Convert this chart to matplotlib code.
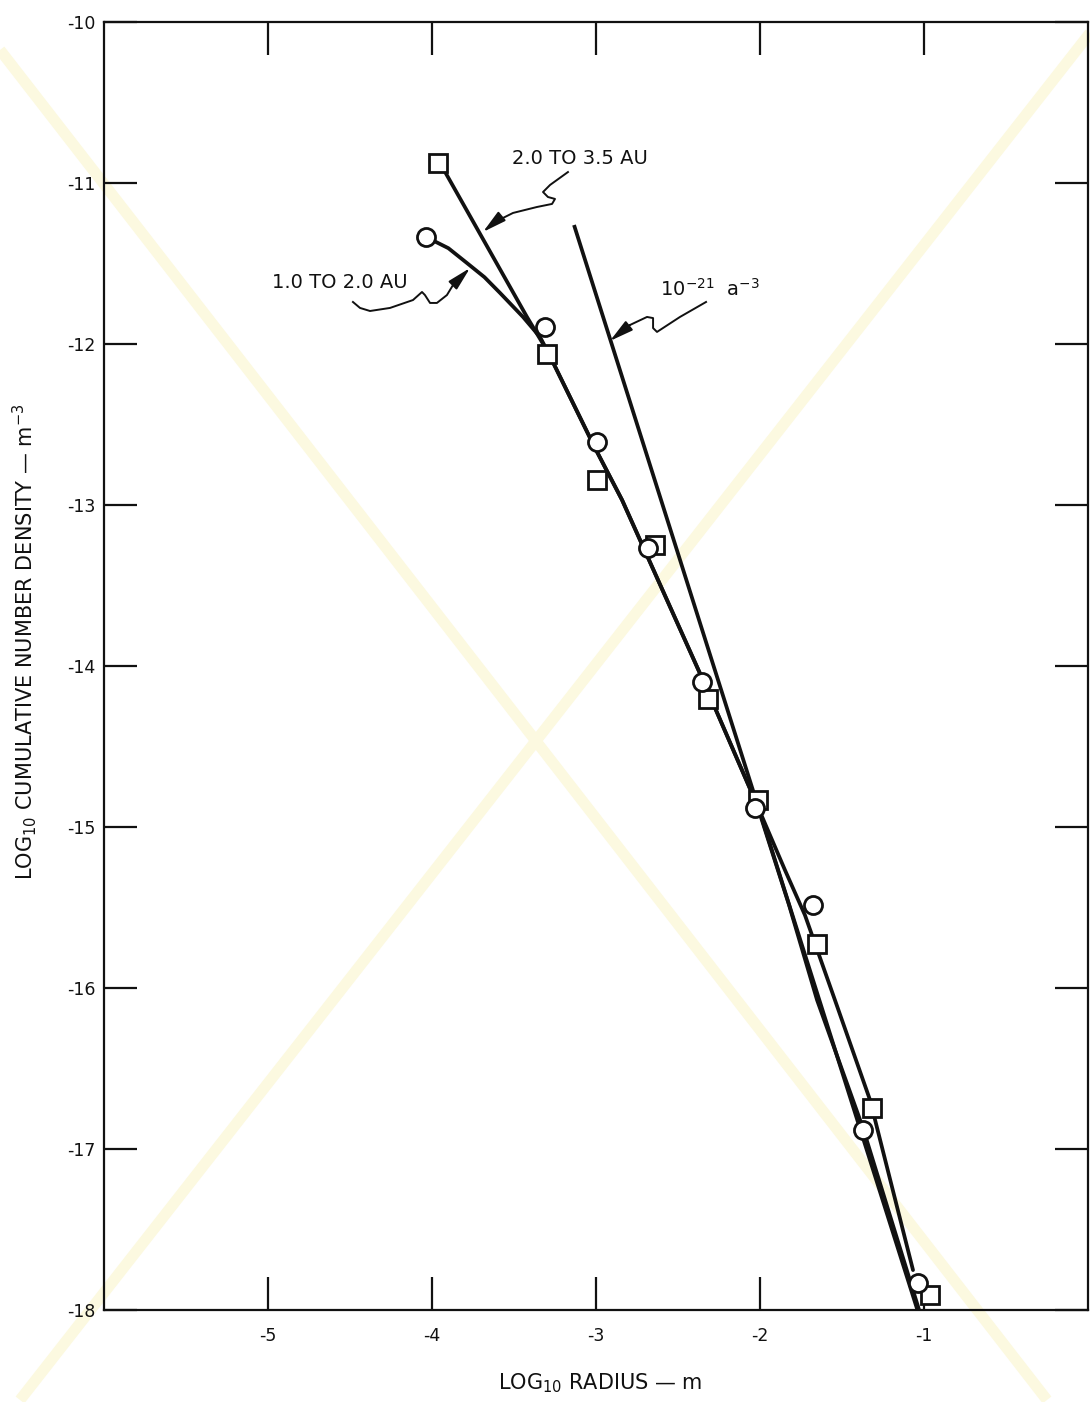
import matplotlib
matplotlib.use("Agg")
import matplotlib.pyplot as plt
from matplotlib.lines import Line2D

plt.rcParams['font.family'] = ['DejaVu Sans']
plt.rcParams['axes.unicode_minus'] = False
plt.rcParams['mathtext.default'] = 'regular'

# ---------------- data ----------------
# 2.0 TO 3.5 AU  (squares)
sq_x = [-3.963, -3.299, -2.994, -2.640, -2.317, -2.012, -1.652, -1.317, -0.963]
sq_y = [-10.876, -12.062, -12.845, -13.248, -14.205, -14.832, -15.727, -16.745, -17.907]
# 1.0 TO 2.0 AU  (circles)
ci_x = [-4.037, -3.311, -2.994, -2.683, -2.354, -2.030, -1.677, -1.372, -1.037]
ci_y = [-11.335, -11.894, -12.609, -13.267, -14.099, -14.882, -15.484, -16.882, -17.832]

# hand-drawn fitted curves
sq_curve_x = [-3.951, -3.421, -3.293, -3.006, -2.841, -2.348, -2.018, -1.848, -1.726, -1.543, -1.329, -1.067]
sq_curve_y = [-10.876, -11.832, -12.050, -12.646, -12.969, -14.087, -14.863, -15.267, -15.547, -16.075, -16.696, -17.752]
ci_curve_x = [-4.037, -3.900, -3.787, -3.680, -3.585, -3.445, -3.341, -3.293, -3.006, -2.841, -2.348, -2.018, -1.823, -1.652, -1.372, -1.030]
ci_curve_y = [-11.335, -11.405, -11.497, -11.585, -11.683, -11.832, -11.957, -12.050, -12.646, -12.969, -14.087, -14.863, -15.484, -16.075, -16.870, -18.0]

# 10^-21 a^-3 reference line (end points)
ref_x = [-3.134, -1.040]
ref_y = [-11.261, -18.0]

x_ticks = [-5, -4, -3, -2, -1]
y_ticks = [-18, -17, -16, -15, -14, -13, -12, -11, -10]

# ---------------- figure ----------------
W, H = 1090, 1402
fig = plt.figure(figsize=(W / 100, H / 100), dpi=100)
fig.patch.set_facecolor('white')

# faint watermark cross
wm = '#fcf9e0'
fig.add_artist(Line2D([0, 1047 / W], [1 - 50 / H, 1 - 1400 / H], transform=fig.transFigure,
                      color=wm, lw=8, zorder=-1, solid_capstyle='butt'))
fig.add_artist(Line2D([1.0, 20 / W], [1 - 33 / H, 1 - 1400 / H], transform=fig.transFigure,
                      color=wm, lw=8, zorder=-1, solid_capstyle='butt'))

ax = fig.add_axes([104 / W, 1 - 1310 / H, 984 / W, 1288 / H])
ax.set_facecolor('none')
ax.set_xlim(-6, 0)
ax.set_ylim(-18, -10)

lw = 2.7
ax.plot(sq_curve_x, sq_curve_y, color='#111111', lw=lw, zorder=2, solid_capstyle='round', solid_joinstyle='round')
ax.plot(ci_curve_x, ci_curve_y, color='#111111', lw=lw, zorder=2, solid_capstyle='round', solid_joinstyle='round')
ax.plot(ref_x, ref_y, color='#111111', lw=lw, zorder=2, solid_capstyle='butt')

ax.plot(sq_x, sq_y, linestyle='none', marker='s', ms=13, mfc='white', mec='#111111', mew=2, zorder=3)
ax.plot(ci_x, ci_y, linestyle='none', marker='o', ms=13, mfc='white', mec='#111111', mew=2, zorder=4)

# ---------------- annotations ----------------
def leader(xs, ys, tip):
    ax.plot(xs, ys, color='#111111', lw=1.4, zorder=2, solid_joinstyle='round')
    ax.annotate('', xy=tip, xytext=(xs[-1], ys[-1]),
                arrowprops=dict(arrowstyle='-|>,head_length=0.9,head_width=0.22',
                                color='#111111', lw=1.4, shrinkA=0, shrinkB=0,
                                mutation_scale=16), zorder=2)

ax.text(-3.098, -10.845, '2.0 TO 3.5 AU', fontsize=14, ha='center', va='center', color='#111111')
leader([-3.171, -3.280, -3.323, -3.293, -3.250, -3.268, -3.360, -3.506, -3.616],
       [-10.932, -11.012, -11.056, -11.087, -11.099, -11.130, -11.149, -11.186, -11.242],
       (-3.689, -11.304))

ax.text(-4.561, -11.621, '1.0 TO 2.0 AU', fontsize=14, ha='center', va='center', color='#111111')
leader([-4.482, -4.439, -4.378, -4.256, -4.116, -4.061, -4.043, -4.012, -3.970, -3.909, -3.872],
       [-11.739, -11.776, -11.795, -11.776, -11.727, -11.677, -11.696, -11.745, -11.745, -11.696, -11.634],
       (-3.768, -11.528))

ax.text(-2.305, -11.70, '10$^{-21}$  a$^{-3}$', fontsize=14, ha='center', va='baseline', color='#111111')
leader([-2.329, -2.488, -2.628, -2.652, -2.652, -2.689, -2.793],
       [-11.739, -11.832, -11.925, -11.901, -11.839, -11.832, -11.882],
       (-2.915, -11.981))

# ---------------- axes styling ----------------
for s in ax.spines.values():
    s.set_linewidth(1.6)
    s.set_color('#111111')

ax.set_xticks(x_ticks)
ax.set_xticklabels([str(v) for v in x_ticks])
ax.set_yticks(y_ticks)
ax.set_yticklabels([str(v) for v in y_ticks])
ax.tick_params(axis='both', direction='in', length=24, width=1.6, color='#111111',
               top=True, right=True, labelsize=12.5, labelcolor='#111111')
ax.tick_params(axis='x', pad=12)
ax.tick_params(axis='y', pad=6)

fig.text(600 / W, 1 - 1383 / H, 'LOG$_{10}$ RADIUS \u2014 m', fontsize=15,
         ha='center', va='center', color='#111111')
fig.text(25 / W, 1 - 642 / H, 'LOG$_{10}$ CUMULATIVE NUMBER DENSITY \u2014 m$^{-3}$', fontsize=15,
         ha='center', va='center', rotation=90, color='#111111')

fig.savefig('out.png', dpi=100, facecolor='white')
